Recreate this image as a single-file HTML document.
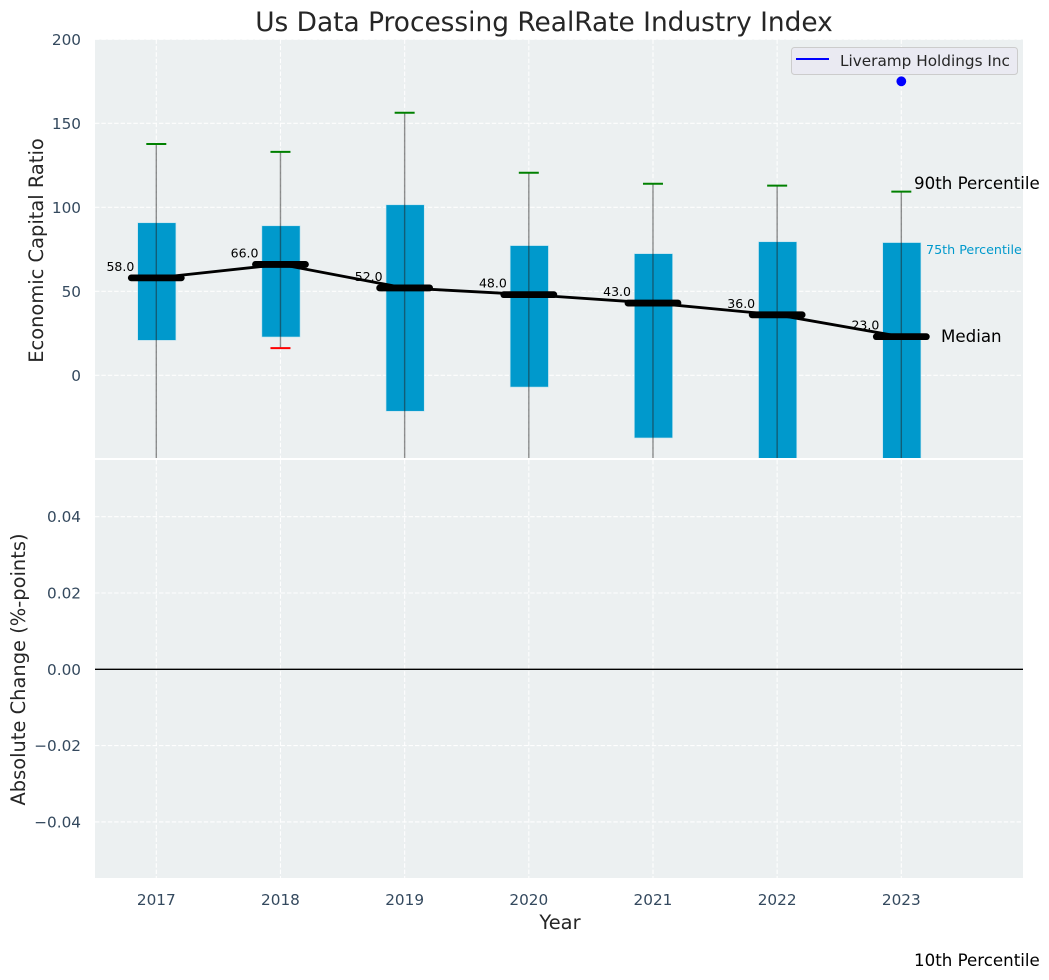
<!DOCTYPE html>
<html>
<head>
<meta charset="utf-8">
<title>Us Data Processing RealRate Industry Index</title>
<style>
html,body{margin:0;padding:0;background:#fff;}
svg{display:block;font-family:"DejaVu Sans","Liberation Sans",sans-serif;}
</style>
</head>
<body>
<svg id="chart" width="1049" height="980" viewBox="0 0 1049 980" xmlns="http://www.w3.org/2000/svg">
<defs>
<clipPath id="top-clip"><rect x="95" y="39.5" width="928" height="418.5"/></clipPath>
</defs>
<text x="544" y="31" font-size="26.4" fill="#262626" text-anchor="middle">Us Data Processing RealRate Industry Index</text>
<rect x="95" y="39.5" width="928" height="418.5" fill="#ecf0f1"/>
<rect x="95" y="460" width="928" height="418" fill="#ecf0f1"/>
<g id="grid"></g>
<g id="marks" clip-path="url(#top-clip)"></g>
<g id="ticks"></g>
<line x1="95" x2="1023" y1="669.3" y2="669.3" stroke="#000" stroke-width="1.4"/>
<text transform="translate(43,250.5) rotate(-90)" font-size="19.44" fill="#262626" text-anchor="middle">Economic Capital Ratio</text>
<text transform="translate(25,669.5) rotate(-90)" font-size="19.44" fill="#262626" text-anchor="middle">Absolute Change (%-points)</text>
<text x="560" y="929" font-size="19.44" fill="#262626" text-anchor="middle">Year</text>
<text x="914" y="189" font-size="16.67" fill="#000">90th Percentile</text>
<text x="926" y="254" font-size="12.7" fill="#0099cc">75th Percentile</text>
<text x="941" y="342" font-size="16.67" fill="#000">Median</text>
<text x="914" y="966" font-size="16.67" fill="#000">10th Percentile</text>
<g>
<rect x="791.5" y="47.5" width="226" height="27" rx="3" fill="#eaeaf2" stroke="#cccccc" stroke-width="1"/>
<line x1="796" x2="829" y1="59" y2="59" stroke="#0000ff" stroke-width="2"/>
<text x="840" y="66" font-size="15.28" fill="#262626">Liveramp Holdings Inc</text>
</g>
</svg>
<script>
const years = [2017, 2018, 2019, 2020, 2021, 2022, 2023];
const p90 = [137.7, 133, 156.3, 120.6, 114, 112.9, 109.3];
const p75 = [90.8, 89, 101.5, 77.2, 72.4, 79.5, 79];
const medians = [58, 66, 52, 48, 43, 36, 23];
const p25 = [20.8, 22.8, -21.4, -7, -37.3, -60, -62];
const p10 = [-70, 16.2, -80, -65, -90, -110, -120];
const companyValues = [null, null, null, null, null, null, 175];
const topTicks = [0, 50, 100, 150, 200];
const bottomTicks = [-0.04, -0.02, 0, 0.02, 0.04];

const NS = 'http://www.w3.org/2000/svg';
function xScale(year) { return 156.3 + 124.17 * (year - 2017); }
function yTop(v) { return 375.3 - 1.68 * v; }
function yBottom(v) { return 669.3 - 3815 * v; }
function make(parent, tag, attrs, text) {
  const el = document.createElementNS(NS, tag);
  for (const k in attrs) el.setAttribute(k, attrs[k]);
  if (text !== undefined) el.textContent = text;
  parent.appendChild(el);
  return el;
}
const grid = document.getElementById('grid');
const marks = document.getElementById('marks');
const ticks = document.getElementById('ticks');
const dash = { stroke: '#ffffff', 'stroke-width': 1.1, 'stroke-dasharray': '4.4 2', opacity: 0.95 };

topTicks.forEach(function (t) {
  const y = yTop(t);
  const g = make(grid, 'line', Object.assign({ x1: 95, x2: 1023, y1: y, y2: y }, dash));
  
  
  const l = make(ticks, 'text', { x: 81, y: y + 5.5, 'font-size': 15.28, fill: '#34495e', 'text-anchor': 'end' }, String(t));
  
  
});
bottomTicks.forEach(function (t) {
  const y = yBottom(t);
  const g = make(grid, 'line', Object.assign({ x1: 95, x2: 1023, y1: y, y2: y }, dash));
  
  
  const txt = (t < 0 ? '\u2212' : '') + Math.abs(t).toFixed(2);
  const l = make(ticks, 'text', { x: 81, y: y + 5.5, 'font-size': 15.28, fill: '#34495e', 'text-anchor': 'end' }, txt);
  
  
});
years.forEach(function (yr) {
  const x = xScale(yr);
  const a = make(grid, 'line', Object.assign({ x1: x, x2: x, y1: 39.5, y2: 458 }, dash));
  
  
  const b = make(grid, 'line', Object.assign({ x1: x, x2: x, y1: 460, y2: 878 }, dash));
  
  
  const l = make(ticks, 'text', { x: x, y: 905, 'font-size': 15.28, fill: '#34495e', 'text-anchor': 'middle' }, String(yr));
  
  
});

years.forEach(function (yr, i) {
  const x = xScale(yr);
  const top = yTop(p75[i]);
  const bottom = yTop(p25[i]);
  const bar = make(marks, 'rect', { x: x - 18.6, y: top, width: 38.2, height: bottom - top, fill: '#0099cc', stroke: '#bfe3ef', 'stroke-width': 0.6 });
  
  
});
years.forEach(function (yr, i) {
  const x = xScale(yr);
  const w = make(marks, 'line', { x1: x, x2: x, y1: yTop(p90[i]), y2: yTop(p10[i]), stroke: '#222222', 'stroke-opacity': 0.5, 'stroke-width': 1.4 });
  
  
  const c90 = make(marks, 'line', { x1: x - 10, x2: x + 10, y1: yTop(p90[i]), y2: yTop(p90[i]), stroke: '#008000', 'stroke-width': 2 });
  
  
  const c10 = make(marks, 'line', { x1: x - 10, x2: x + 10, y1: yTop(p10[i]), y2: yTop(p10[i]), stroke: '#ff0000', 'stroke-width': 2 });
  
  
  const t = make(marks, 'text', { x: x - 22, y: yTop(medians[i]) - 7, 'font-size': 12.5, fill: '#000', 'text-anchor': 'end' }, medians[i].toFixed(1));
  
  
});
const pts = years.map(function (yr, i) { return xScale(yr) + ',' + yTop(medians[i]); }).join(' ');
const trend = make(marks, 'polyline', { points: pts, fill: 'none', stroke: '#000', 'stroke-width': 2.8 });


years.forEach(function (yr, i) {
  const x = xScale(yr);
  const y = yTop(medians[i]);
  const m = make(marks, 'line', { x1: x - 25, x2: x + 25, y1: y, y2: y, stroke: '#000', 'stroke-width': 6.8, 'stroke-linecap': 'round' });
  
  
  if (companyValues[i] !== null) {
    const d = make(marks, 'circle', { cx: x, cy: yTop(companyValues[i]), r: 4.9, fill: '#0000ff' });
    
    
  }
});
</script>
</body>
</html>
